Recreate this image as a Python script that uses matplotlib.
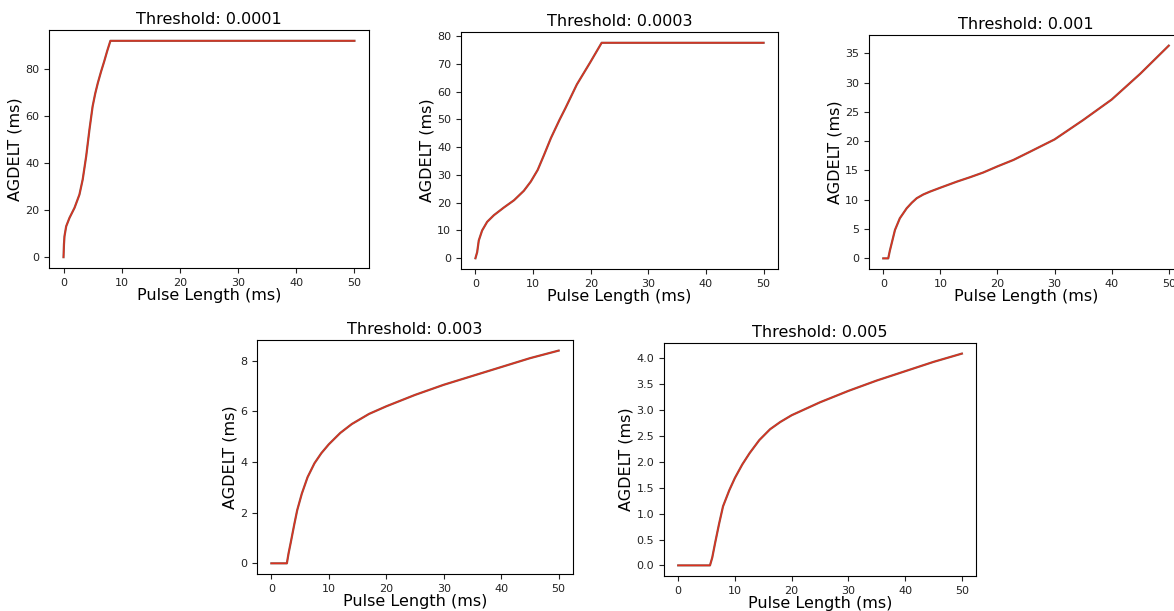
import matplotlib
matplotlib.use("Agg")
import matplotlib.pyplot as plt

thresholds = ["0.0001", "0.0003", "0.001", "0.003", "0.005"]

x1 = [0, 0.08, 0.17, 0.46, 1.03, 1.9, 2.74, 3.3, 3.9, 4.46, 5.0, 5.45, 5.9, 6.45, 7.0, 7.5, 8.06, 50]
y1 = [0, 5.5, 8.9, 13.1, 16.7, 21.0, 26.6, 33.0, 42.9, 54.2, 64.0, 69.5, 74.0, 78.8, 83.2, 87.5, 91.9, 91.9]

x2 = [0, 0.3, 0.58, 1.16, 2.03, 3.2, 4.95, 6.7, 8.4, 9.6, 10.8, 11.9, 13.1,
      14.6, 15.6, 17.6, 19.9, 21.9, 50]
y2 = [0, 2.2, 6.4, 10.0, 13.1, 15.5, 18.3, 20.9, 24.3, 27.6, 31.8, 37.2, 43.3,
      49.9, 54.0, 62.6, 70.5, 77.6, 77.6]

x3 = [0, 0.87, 1.15, 1.47, 2.05, 2.9, 4.1, 5.0, 5.85, 7.0, 8.2, 10.05, 12.9, 15.2, 17.5, 20,
      22.8, 25.7, 30, 35, 40, 45, 50]
y3 = [0, 0, 1.3, 2.56, 4.85, 6.84, 8.55, 9.5, 10.26, 10.9, 11.4, 12.08, 13.1, 13.85, 14.65, 15.7,
      16.8, 18.2, 20.3, 23.6, 27.1, 31.5, 36.3]

x4 = [0, 2.7, 3.0, 3.4, 4.0, 4.5, 5.3, 6.3, 7.5, 8.7, 10, 12, 14, 17, 20, 25,
      30, 35, 40, 45, 50]
y4 = [0, 0, 0.4, 0.85, 1.55, 2.1, 2.75, 3.4, 3.95, 4.35, 4.7, 5.15, 5.5, 5.9,
      6.2, 6.65, 7.05, 7.4, 7.75, 8.1, 8.4]

x5 = [0, 5.6, 6.0, 6.5, 7.2, 7.9, 9, 10, 11.3, 12.6, 14.3, 16.2, 18, 20, 25,
      30, 35, 40, 45, 50]
y5 = [0, 0, 0.15, 0.43, 0.8, 1.14, 1.45, 1.69, 1.95, 2.17, 2.42, 2.63, 2.77,
      2.9, 3.15, 3.37, 3.57, 3.75, 3.93, 4.09]

xs = [x1, x2, x3, x4, x5]
ys = [y1, y2, y3, y4, y5]

boxes = [
    [0.0417, 0.5614, 0.2726, 0.3895],
    [0.3927, 0.5597, 0.2700, 0.3879],
    [0.7402, 0.5597, 0.2675, 0.3830],
    [0.2189, 0.0606, 0.2692, 0.3830],
    [0.5656, 0.0573, 0.2658, 0.3813],
]

fig = plt.figure(figsize=(11.74, 6.11), dpi=100)

for i in range(len(thresholds)):
    ax = fig.add_axes(boxes[i])
    ax.plot(xs[i], ys[i], color="#8c564b", lw=1.6)
    ax.plot(xs[i], ys[i], color="#e0301e", lw=0.9)
    ax.set_title(f"Threshold: {thresholds[i]}", fontsize=11.5, pad=4)
    ax.set_xlabel("Pulse Length (ms)", fontsize=11.5, labelpad=0)
    ax.set_ylabel("AGDELT (ms)", fontsize=11.5, labelpad=2)
    ax.tick_params(labelsize=8, colors="#222222")
    ax.set_xticks([0, 10, 20, 30, 40, 50])

fig.savefig("out.png", dpi=100)
